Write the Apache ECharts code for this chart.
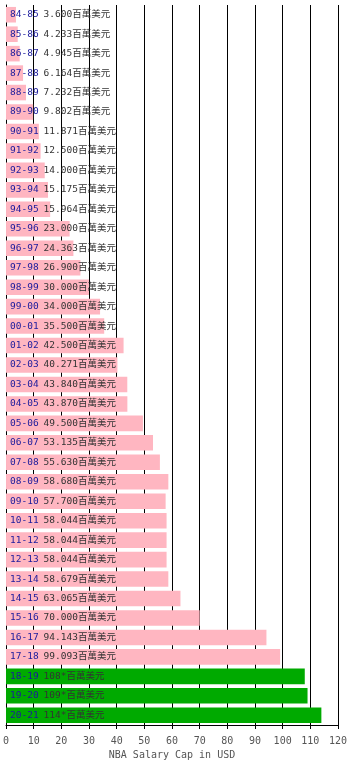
<!DOCTYPE html>
<html>
<head>
<meta charset="utf-8">
<script src="https://cdn.jsdelivr.net/npm/echarts@6/dist/echarts.min.js"></script>
<style>
  html, body { margin: 0; padding: 0; background: #fff; }
  #chart { width: 350px; height: 775px; }
</style>
</head>
<body>
<div id="chart"></div>
<script>
// NBA salary cap by season, in millions of US dollars
const seasons = [
  '84-85', '85-86', '86-87', '87-88', '88-89', '89-90', '90-91', '91-92',
  '92-93', '93-94', '94-95', '95-96', '96-97', '97-98', '98-99', '99-00',
  '00-01', '01-02', '02-03', '03-04', '04-05', '05-06', '06-07', '07-08',
  '08-09', '09-10', '10-11', '11-12', '12-13', '13-14', '14-15', '15-16',
  '16-17', '17-18', '18-19', '19-20', '20-21'
];
const capMillions = [
  3.600, 4.233, 4.945, 6.164, 7.232, 9.802, 11.871, 12.500,
  14.000, 15.175, 15.964, 23.000, 24.363, 26.900, 30.000, 34.000,
  35.500, 42.500, 40.271, 43.840, 43.870, 49.500, 53.135, 55.630,
  58.680, 57.700, 58.044, 58.044, 58.044, 58.679, 63.065, 70.000,
  94.143, 99.093, 108, 109, 114
];
// projected seasons (marked with *)
const projected = [
  false, false, false, false, false, false, false, false,
  false, false, false, false, false, false, false, false,
  false, false, false, false, false, false, false, false,
  false, false, false, false, false, false, false, false,
  false, false, true, true, true
];
const xTicks = { min: 0, max: 120, interval: 10 };
const unitText = '百萬美元';
const axisTitle = 'NBA Salary Cap in USD';

const PINK = '#ffb6c1';
const GREEN = '#00aa00';
const MONO = '"DejaVu Sans Mono", "Liberation Mono", monospace';
// mono digits with CJK fallback in a single run keeps one shared baseline
const MIXED = '"DejaVu Sans Mono", "Noto Sans CJK TC", "Noto Sans CJK SC", monospace';

const chart = echarts.init(document.getElementById('chart'), null, { renderer: 'canvas' });

chart.setOption({
  animation: false,
  backgroundColor: '#fff',
  grid: { left: 5, right: 10, top: 5, bottom: 50, containLabel: false },
  xAxis: {
    type: 'value',
    min: xTicks.min,
    max: xTicks.max,
    interval: xTicks.interval,
    name: axisTitle,
    nameLocation: 'middle',
    nameGap: 25,
    nameTextStyle: { color: '#555', fontFamily: MONO, fontSize: 10 },
    axisLine: { show: true, lineStyle: { color: '#000', width: 1 } },
    axisTick: { show: true, length: 4, lineStyle: { color: '#000' } },
    axisLabel: { color: '#555', fontFamily: MONO, fontSize: 10, margin: 11 },
    splitLine: { show: true, lineStyle: { color: '#000', width: 1 } }
  },
  yAxis: {
    type: 'category',
    data: seasons,
    inverse: true,
    axisLine: { show: true, lineStyle: { color: '#000', width: 1 } },
    axisTick: { show: false },
    axisLabel: { show: false }
  },
  series: [{
    type: 'bar',
    data: capMillions.map((v, i) => ({
      value: v,
      itemStyle: { color: projected[i] ? GREEN : PINK }
    })),
    barCategoryGap: '20%',
    label: {
      show: true,
      position: 'insideLeft',
      distance: 4,
      formatter: (p) => {
        const i = p.dataIndex;
        const txt = projected[i] ? capMillions[i] + '*' : capMillions[i].toFixed(3);
        return '{s|' + seasons[i] + '}{v|' + txt + unitText + '}';
      },
      rich: {
        s: { color: '#1a1a9c', fontFamily: MIXED, fontSize: 9.5, lineHeight: 14, padding: [0, 5, 0, 0] },
        v: { color: '#333', fontFamily: MIXED, fontSize: 9.5, lineHeight: 14 }
      }
    }
  }]
});
</script>
</body>
</html>
